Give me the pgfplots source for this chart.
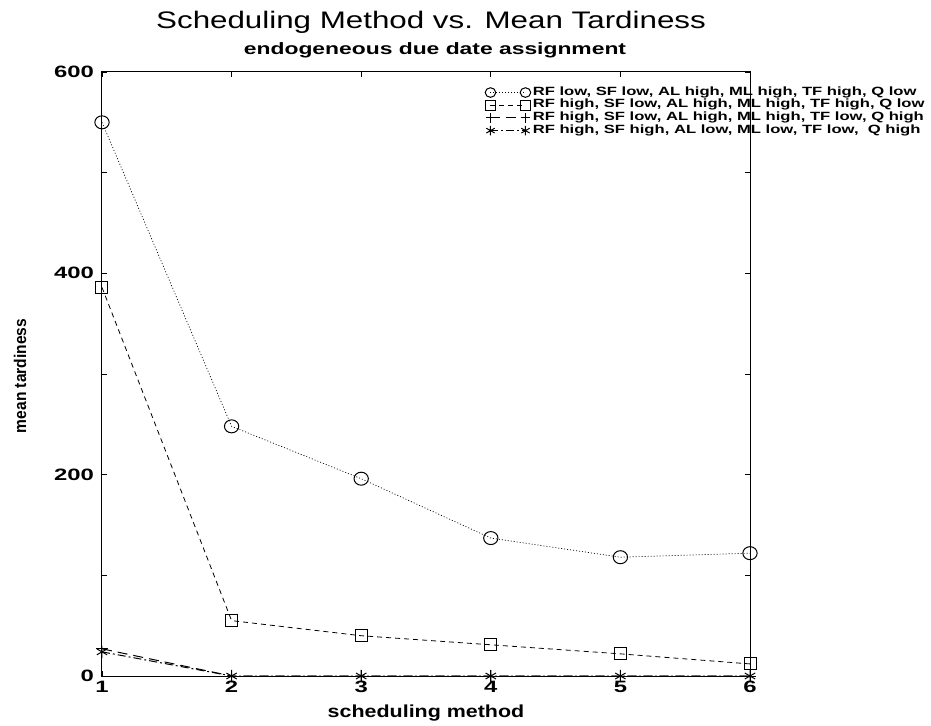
\documentclass[border=0pt]{standalone}
\usepackage{pgfplots}
\pgfplotsset{compat=1.18}
\usepackage{fontspec}
\setmainfont{Liberation Sans}
\usepackage{graphicx}
% horizontally widened text, in the look of the old plotting output
\newcommand{\hs}[2][1.25]{\scalebox{#1}[1]{#2}}
\newcommand{\tk}[1]{\hs[1.45]{#1}}
\newcommand{\legtxt}[1]{\hs[1.39]{#1}}

\begin{document}
\begin{tikzpicture}
\begin{axis}[
  name=ax,
  at={(0,0)}, anchor=south west,
  scale only axis,
  width=648bp, height=604bp,
  xmin=1, xmax=6, ymin=0, ymax=600,
  clip=false,
  axis line style={line width=1bp},
  tick align=inside,
  tick style={line width=0.8bp, black},
  major tick length=5bp, minor tick length=5bp,
  xtick={1,2,3,4,5,6},
  xticklabels={\tk{1},\tk{2},\tk{3},\tk{4},\tk{5},\tk{6}},
  ytick={0,200,400,600},
  minor ytick={100,300,500},
  yticklabels={\tk{0},\tk{200},\tk{400},\tk{600}},
  ticklabel style={font=\fontsize{16.5}{16.5}\selectfont\bfseries},
  xticklabel style={yshift=-1.5bp},
  yticklabel style={xshift=-4.5bp},
  legend image code/.code={\draw[mark size=4.8bp] plot coordinates {(0bp,0bp) (35bp,0bp)};},
  legend style={at={(383bp,590bp)}, anchor=north west, draw=none, fill=none,
    inner sep=0bp, column sep=2bp,
    font=\fontsize{12}{12}\selectfont\bfseries,
    nodes={inner sep=0bp, text height=9bp, text depth=3.7bp}},
  legend cell align=left,
]
% RF low, SF low, AL high, ML high, TF high, Q low
\addplot[black, line width=0.7bp, dash pattern=on 1bp off 2bp,
  mark=o, mark size=6.5bp, mark options={solid, line width=1bp, xscale=1.1}]
  coordinates {(1,550) (2,248) (3,196) (4,137) (5,118) (6,122)};
\addlegendentry{\legtxt{RF low, SF low, AL high, ML high, TF high, Q low}}
% RF high, SF low, AL high, ML high, TF high, Q low
\addplot[black, line width=0.8bp, dash pattern=on 5bp off 4bp,
  mark=square, mark size=6bp, mark options={solid, line width=1bp}]
  coordinates {(1,386) (2,55) (3,40) (4,31) (5,22) (6,12)};
\addlegendentry{\legtxt{RF high, SF low, AL high, ML high, TF high, Q low}}
% RF high, SF low, AL high, ML high, TF low, Q high
\addplot[black, line width=1bp, dash pattern=on 10bp off 6bp,
  mark=+, mark size=6bp, mark options={solid, line width=1bp}]
  coordinates {(1,27) (2,0) (3,0) (4,0) (5,0) (6,0)};
\addlegendentry{\legtxt{RF high, SF low, AL high, ML high, TF low, Q high}}
% RF high, SF high, AL low, ML low, TF low, Q high
\addplot[black, line width=1bp, dash pattern=on 8bp off 3bp on 2bp off 3bp,
  mark=asterisk, mark size=6bp, mark options={solid, line width=1bp}]
  coordinates {(1,24) (2,0) (3,0) (4,0) (5,0) (6,0)};
\addlegendentry{\legtxt{RF high, SF high, AL low, ML low, TF low,\ \ Q high}}
\end{axis}
% titles and axis labels
\node[anchor=base] at (329bp,647bp) {\hs[1.31]{\fontsize{24}{24}\selectfont Scheduling Method vs. Mean Tardiness}};
\node[anchor=base] at (333bp,621bp) {\hs[1.39]{\fontsize{16.5}{16.5}\selectfont\bfseries endogeneous due date assignment}};
\node[anchor=base] at (324bp,-41bp) {\hs[1.23]{\fontsize{17.5}{17.5}\selectfont\bfseries scheduling method}};
\node[rotate=90] at (-82bp,300bp) {\hs[0.92]{\fontsize{17}{17}\selectfont\bfseries mean tardiness}};
\pgfresetboundingbox
\path[use as bounding box] (-102bp,-50bp) rectangle (829bp,676bp);
\end{tikzpicture}
\end{document}
